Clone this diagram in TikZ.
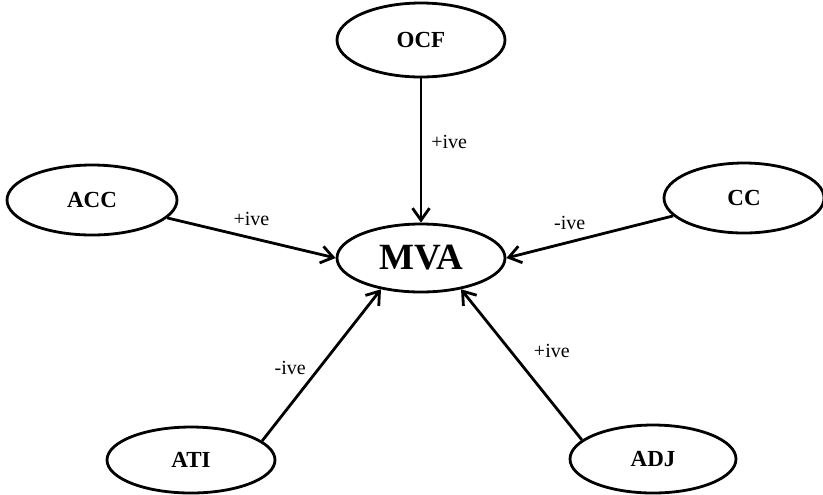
\documentclass[tikz,border=0pt]{standalone}
\usepackage{fontspec}
\setmainfont{Liberation Serif}
\usetikzlibrary{arrows.meta,shapes.geometric}

\begin{document}
\begin{tikzpicture}[x=0.5pt,y=-0.5pt,>={Straight Barb[length=6pt,width=8.5pt]},
factor/.style={draw,ellipse,line width=1.4pt,minimum width=84pt,minimum height=35pt,inner sep=0pt,font=\fontsize{11.5}{13}\selectfont\bfseries},
arr/.style={->,line width=1.4pt},
lab/.style={font=\fontsize{10}{12}\selectfont,inner sep=3pt}]
\useasboundingbox (0,0) rectangle (823,494);
\node[factor,minimum height=37pt] (ocf) at (421,40) {OCF};
\node[factor,minimum width=85pt] (acc) at (92,200) {ACC};
\node[factor,minimum width=80pt] (cc) at (744,198) {CC};
\node[factor,minimum height=34pt,font=\fontsize{18.5}{20}\selectfont\bfseries] (mva) at (421,258) {MVA};
\node[factor,minimum height=33pt] (ati) at (191,460) {ATI};
\node[factor,minimum width=83pt,minimum height=34pt] (adj) at (653,459) {ADJ};
% signed links into MVA
\foreach \u/\v/\s/\a/\t/\dx/\dy in {ocf.south/mva.north/+ive/right/0.44/1.5/0,acc/mva.west/+ive/above/0.5/0/2.5,cc/mva.east/-ive/above/0.62/0/2.5,ati.15/mva.218/-ive/left/0.48/-3/0,adj.165/mva.322/+ive/right/0.59/8/0}{\draw[arr] (\u) -- node[lab,\a,pos=\t,xshift=\dx pt,yshift=\dy pt] {\s} (\v);}
\end{tikzpicture}
\end{document}
